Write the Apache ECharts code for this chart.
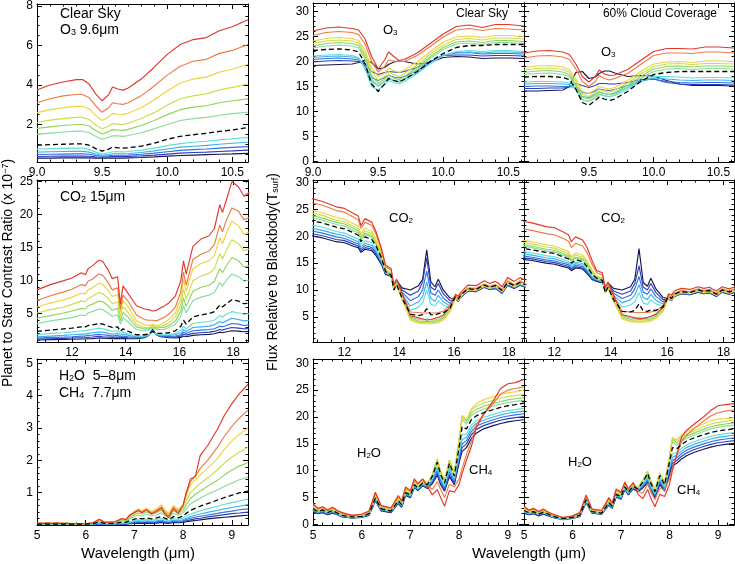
<!DOCTYPE html>
<html>
<head>
<meta charset="utf-8">
<script src="https://cdn.jsdelivr.net/npm/echarts@6/dist/echarts.min.js"></script>
<style>
  html, body { margin: 0; padding: 0; background: #fff; }
  #chart { width: 735px; height: 564px; }
</style>
</head>
<body>
<div id="chart"></div>
<script>
// every panel: rows in the order red, orange, yellow, yellow-green, green, light green,
// dashed black, aqua, sky blue, blue, dark blue, navy
const lineColors = ['#e0392b', '#ec7b46', '#f2d23c', '#c7e048', '#8fd45c', '#86dc9c',
  '#000000', '#5ee0d6', '#3fb0ee', '#3072de', '#2b3fbf', '#16164f'];

// tick labels
const o3XTicks = [9.0, 9.5, 10.0, 10.5];
const co2XTicks = [12, 14, 16, 18];
const h2oXTicks = [5, 6, 7, 8, 9];
const ratioO3YTicks = [2, 4, 6, 8];
const ratioCO2YTicks = [5, 10, 15, 20, 25];
const ratioH2OYTicks = [1, 2, 3, 4, 5];
const fluxYTicks = [0, 5, 10, 15, 20, 25, 30];

// ---- O3 band (9 - 10.6 um) ----
const o3X = [9.0, 9.1, 9.2, 9.3, 9.35, 9.4, 9.45, 9.5, 9.55, 9.58, 9.62, 9.66, 9.7, 9.8, 9.9, 10.0, 10.1, 10.2, 10.3, 10.4, 10.5, 10.62];

const o3Ratio = [
  [3.75,4.0,4.15,4.27,4.28,4.05,3.55,3.2,3.5,3.9,3.8,3.74,3.85,4.3,4.9,5.55,6.05,6.3,6.4,6.75,6.95,7.3],
  [3.1,3.3,3.45,3.52,3.52,3.35,2.95,2.62,2.85,3.1,3.05,3.02,3.1,3.45,3.95,4.5,4.95,5.2,5.3,5.6,5.75,6.05],
  [2.6,2.75,2.85,2.92,2.92,2.8,2.45,2.2,2.38,2.55,2.52,2.5,2.57,2.85,3.25,3.7,4.1,4.3,4.4,4.65,4.8,5.05],
  [2.1,2.22,2.3,2.36,2.36,2.25,1.98,1.78,1.92,2.05,2.02,2.0,2.06,2.3,2.6,2.98,3.3,3.45,3.55,3.75,3.88,4.05],
  [1.8,1.88,1.95,2.0,2.0,1.92,1.7,1.52,1.64,1.74,1.72,1.7,1.75,1.95,2.2,2.5,2.75,2.88,2.95,3.1,3.2,3.3],
  [1.5,1.56,1.62,1.66,1.66,1.58,1.4,1.25,1.35,1.43,1.42,1.4,1.44,1.58,1.78,2.0,2.2,2.3,2.36,2.47,2.55,2.62],
  [0.95,0.98,1.0,1.02,1.02,0.95,0.78,0.65,0.75,0.85,0.82,0.8,0.82,0.9,1.05,1.25,1.4,1.48,1.55,1.65,1.72,1.85],
  [0.75,0.77,0.79,0.8,0.8,0.74,0.6,0.5,0.57,0.62,0.62,0.61,0.63,0.7,0.8,0.93,1.03,1.1,1.15,1.22,1.28,1.35],
  [0.6,0.62,0.63,0.64,0.64,0.6,0.5,0.44,0.48,0.52,0.52,0.52,0.53,0.58,0.66,0.76,0.85,0.9,0.94,1.0,1.05,1.1],
  [0.48,0.49,0.5,0.51,0.51,0.49,0.43,0.39,0.41,0.44,0.44,0.44,0.45,0.49,0.55,0.62,0.69,0.73,0.76,0.8,0.84,0.88],
  [0.38,0.39,0.4,0.4,0.4,0.39,0.36,0.34,0.36,0.37,0.37,0.37,0.38,0.41,0.45,0.5,0.55,0.58,0.6,0.63,0.66,0.7],
  [0.3,0.3,0.31,0.31,0.31,0.31,0.3,0.29,0.3,0.3,0.3,0.3,0.31,0.33,0.36,0.4,0.43,0.45,0.47,0.49,0.51,0.54]
];

const o3FluxClear = [
  [26.1,26.7,26.9,26.6,26.3,24.5,21.0,18.5,20.3,21.9,21.0,20.2,20.4,21.7,23.6,25.5,27.0,27.3,26.8,27.4,27.4,27.1],
  [25.2,25.8,26.0,25.8,25.4,23.5,20.0,17.9,19.0,20.3,20.1,20.0,20.0,21.2,23.0,24.9,26.3,26.6,26.2,26.6,26.5,26.3],
  [24.1,24.6,24.8,24.6,24.2,22.2,18.8,17.0,17.6,18.7,18.2,17.8,18.3,19.9,22.0,23.9,24.9,25.1,24.8,25.2,25.2,25.0],
  [23.6,24.1,24.3,24.1,23.7,21.6,18.0,16.3,17.0,18.0,17.4,17.0,17.6,19.3,21.5,23.3,24.4,24.6,24.3,24.7,24.7,24.5],
  [23.1,23.6,23.8,23.6,23.2,21.0,17.2,15.6,16.5,17.3,16.7,16.3,17.0,18.8,21.0,22.8,23.9,24.1,23.8,24.2,24.2,24.0],
  [22.7,23.1,23.3,23.1,22.7,20.5,16.5,15.0,16.0,16.8,16.2,15.8,16.6,18.4,20.6,22.4,23.5,23.7,23.4,23.8,23.8,23.6],
  [22.2,22.4,22.5,22.3,21.9,19.5,15.5,14.0,15.5,16.6,16.2,15.9,16.4,18.0,20.0,21.6,22.8,23.2,23.2,23.4,23.4,23.4],
  [21.1,21.3,21.4,21.2,20.8,18.5,15.0,14.3,15.4,16.2,15.8,15.5,16.0,17.6,19.6,21.2,22.0,22.2,22.0,22.2,22.2,22.0],
  [20.8,21.0,21.1,20.9,20.6,18.8,16.0,15.2,16.0,16.6,16.2,16.0,16.4,17.8,19.6,21.2,21.8,21.9,21.7,21.9,21.9,21.8],
  [20.4,20.6,20.7,20.5,20.3,19.0,16.8,16.2,16.8,17.2,16.9,16.7,17.0,18.2,19.8,21.3,21.7,21.8,21.5,21.6,21.6,21.5],
  [19.9,20.1,20.2,20.1,20.0,19.5,18.0,17.4,17.8,18.0,17.9,17.8,18.0,18.8,20.0,21.2,21.3,21.3,21.1,21.2,21.2,21.1],
  [19.2,19.3,19.4,19.5,19.8,20.3,19.8,18.5,18.8,19.4,19.9,20.1,20.0,19.5,19.8,20.8,21.0,20.9,20.6,20.7,20.7,20.6]
];

const o3FluxCloud = [
  [21.7,22.1,22.2,21.9,21.4,19.5,17.0,15.9,17.0,18.3,17.5,17.2,17.3,18.4,20.2,22.0,22.6,22.6,22.5,22.9,22.9,22.7],
  [20.7,21.1,21.2,20.9,20.4,18.5,16.0,15.0,16.0,17.2,16.6,16.3,16.6,17.6,19.4,21.2,21.7,21.7,21.6,21.9,21.9,21.7],
  [18.8,19.1,19.2,18.9,18.4,16.5,14.0,13.6,14.4,15.0,14.7,14.5,14.8,16.2,18.0,19.5,19.9,20.0,19.8,20.1,20.1,20.0],
  [18.3,18.6,18.7,18.4,17.9,16.0,13.4,13.0,13.8,14.4,14.1,13.9,14.3,15.7,17.5,19.0,19.5,19.6,19.4,19.6,19.6,19.5],
  [17.8,18.1,18.2,17.9,17.4,15.4,12.8,12.5,13.3,13.9,13.6,13.4,13.8,15.2,17.0,18.5,19.0,19.1,18.9,19.1,19.1,19.0],
  [17.4,17.6,17.7,17.4,17.0,15.0,12.3,12.0,12.9,13.5,13.2,13.0,13.4,14.8,16.6,18.0,18.5,18.6,18.4,18.6,18.6,18.5],
  [16.9,17.0,17.0,16.8,16.4,14.5,11.8,11.2,12.2,12.9,12.5,12.2,12.5,14.0,16.0,17.4,17.8,18.0,18.0,18.0,18.0,18.0],
  [15.9,16.0,16.0,15.9,15.7,14.3,12.3,12.0,12.8,13.4,13.1,12.9,13.2,14.4,16.0,17.0,17.0,16.9,16.7,16.8,16.8,16.7],
  [15.5,15.6,15.6,15.5,15.4,14.6,13.0,12.8,13.4,13.9,13.6,13.4,13.7,14.8,16.0,16.7,16.5,16.3,16.2,16.3,16.3,16.2],
  [15.0,15.1,15.1,15.0,15.0,14.8,13.8,13.6,14.1,14.5,14.3,14.2,14.4,15.2,16.2,16.5,16.0,15.8,15.7,15.8,15.8,15.7],
  [14.6,14.6,14.7,14.7,14.9,15.6,15.2,14.8,15.2,15.6,15.6,15.5,15.5,15.8,16.4,16.5,15.8,15.5,15.4,15.4,15.4,15.3],
  [14.1,14.1,14.2,14.3,15.0,17.8,18.0,16.6,16.9,17.6,18.1,18.1,17.7,17.0,17.2,17.1,16.2,15.5,15.2,15.2,15.2,15.1]
];

// ---- CO2 band (11 - 18.5 um) ----
const co2X = [10.7, 11.2, 11.7, 12.0, 12.35, 12.5, 12.6, 12.75, 13.0, 13.15, 13.35, 13.5, 13.7, 13.8, 13.9, 14.1, 14.4, 14.7, 14.85, 15.0, 15.15, 15.3, 15.42, 15.6, 15.85, 16.05, 16.15, 16.25, 16.5, 16.8, 17.1, 17.3, 17.5, 17.6, 17.75, 17.95, 18.2, 18.4, 18.6];

const co2Ratio = [
  [8.6,9.4,10.0,10.4,11.2,10.9,11.8,12.2,13.1,12.9,11.6,10.3,10.6,6.4,9.2,8.0,6.2,5.7,5.6,5.4,5.5,5.9,6.1,6.6,7.7,10.0,13.0,11.0,15.2,16.3,16.8,17.9,21.5,20.3,22.3,25.0,24.2,22.8,23.4],
  [7.0,7.7,8.3,8.7,9.4,9.2,9.9,10.2,11.0,10.8,9.7,8.6,8.9,5.6,7.8,6.8,4.8,4.1,4.0,4.0,3.9,4.2,4.4,4.9,6.0,8.3,11.3,9.3,13.2,14.0,14.5,15.5,18.4,17.4,19.2,21.0,20.5,19.2,19.6],
  [6.0,6.6,7.1,7.5,8.1,8.0,8.6,8.9,9.6,9.4,8.5,7.6,7.9,5.2,7.0,6.0,3.9,3.3,3.2,3.4,3.2,3.4,3.6,4.1,5.1,7.3,10.2,8.4,11.8,12.6,13.0,13.8,16.5,15.6,17.2,19.0,18.3,17.0,17.4],
  [5.1,5.6,6.0,6.4,6.9,6.8,7.3,7.6,8.2,8.0,7.3,6.5,6.8,4.5,6.1,5.1,3.4,2.9,2.9,3.2,3.0,3.1,3.2,3.6,4.5,6.3,8.7,7.2,10.0,10.7,11.1,11.8,14.1,13.3,14.7,16.2,15.6,14.5,14.8],
  [4.3,4.7,5.1,5.4,5.8,5.7,6.2,6.4,6.9,6.8,6.2,5.5,5.8,3.9,5.2,4.4,3.0,2.7,2.7,3.0,2.8,2.9,2.9,3.2,3.9,5.4,7.4,6.1,8.4,9.0,9.3,9.9,11.8,11.2,12.3,13.5,13.0,12.1,12.3],
  [3.5,3.9,4.2,4.4,4.8,4.7,5.1,5.3,5.7,5.6,5.1,4.6,4.8,3.4,4.4,3.7,2.6,2.4,2.5,2.8,2.6,2.6,2.6,2.9,3.4,4.6,6.2,5.1,7.0,7.5,7.8,8.2,9.7,9.2,10.1,11.0,10.6,9.9,10.1],
  [2.3,2.5,2.7,2.8,3.0,3.0,3.2,3.3,3.5,3.4,3.1,2.9,3.0,2.3,2.7,2.3,1.8,1.8,1.9,2.3,2.0,2.0,2.0,2.1,2.4,3.1,4.0,3.4,4.5,4.8,5.0,5.3,6.3,6.0,6.5,7.1,6.9,6.5,6.6],
  [1.8,2.0,2.1,2.2,2.4,2.4,2.5,2.6,2.8,2.7,2.5,2.3,2.4,2.0,2.2,1.9,1.6,1.6,1.8,2.3,1.9,1.8,1.8,1.8,2.0,2.5,3.1,2.7,3.5,3.7,3.8,4.0,4.7,4.5,4.9,5.3,5.1,4.9,5.0],
  [1.5,1.6,1.7,1.8,1.9,1.9,2.0,2.1,2.2,2.2,2.0,1.9,2.0,1.7,1.9,1.7,1.5,1.5,1.7,2.3,1.8,1.7,1.7,1.7,1.8,2.1,2.6,2.3,2.9,3.0,3.1,3.3,3.8,3.6,3.9,4.3,4.1,3.9,4.0],
  [1.3,1.4,1.45,1.5,1.6,1.6,1.7,1.75,1.85,1.8,1.7,1.6,1.7,1.5,1.6,1.5,1.4,1.45,1.7,2.4,1.8,1.6,1.6,1.55,1.6,1.8,2.2,2.0,2.4,2.5,2.6,2.7,3.1,3.0,3.2,3.5,3.4,3.2,3.3],
  [1.15,1.2,1.25,1.3,1.35,1.35,1.4,1.45,1.55,1.5,1.45,1.4,1.45,1.35,1.4,1.35,1.3,1.4,1.7,2.5,1.8,1.55,1.5,1.45,1.45,1.6,1.9,1.75,2.0,2.1,2.2,2.3,2.6,2.5,2.7,2.9,2.8,2.7,2.75],
  [1.0,1.05,1.1,1.12,1.15,1.15,1.2,1.22,1.3,1.28,1.25,1.2,1.25,1.2,1.25,1.2,1.2,1.35,1.7,2.6,1.8,1.5,1.45,1.35,1.3,1.4,1.6,1.5,1.7,1.8,1.85,1.95,2.2,2.1,2.25,2.4,2.35,2.25,2.3]
];

const co2FluxClear = [
  [27.2,26.5,25.5,25.2,24.2,23.8,22.0,23.3,22.6,20.9,17.7,14.6,14.0,11.0,12.0,9.5,5.2,4.8,4.6,4.4,4.5,4.7,4.9,5.3,6.8,9.2,8.8,9.6,10.9,10.8,11.7,11.2,11.6,11.3,10.6,12.3,11.6,12.3,11.8],
  [26.4,25.8,24.8,24.5,23.5,23.1,21.5,22.6,22.0,20.4,17.4,14.3,13.7,10.8,11.8,9.3,5.9,5.8,5.7,5.7,5.7,5.7,5.8,6.0,7.2,9.0,8.5,9.2,10.4,10.3,11.1,10.7,11.0,10.7,10.1,11.7,11.0,11.7,11.2],
  [25.0,24.4,23.5,23.2,22.3,21.9,20.5,21.5,20.9,19.5,16.8,13.8,13.2,10.2,11.3,8.5,4.4,3.8,3.7,3.7,3.7,3.8,3.9,4.4,5.9,8.5,8.0,8.8,10.0,9.9,10.7,10.3,10.6,10.3,9.7,11.2,10.6,11.2,10.8],
  [24.5,23.9,23.0,22.7,21.8,21.4,20.1,21.0,20.5,19.1,16.6,13.7,13.1,10.1,11.2,8.4,4.6,4.0,3.9,3.9,3.9,4.0,4.1,4.6,6.0,8.6,8.1,8.9,10.1,10.0,10.8,10.4,10.7,10.4,9.8,11.3,10.7,11.3,10.9],
  [24.0,23.4,22.6,22.3,21.4,21.0,19.7,20.6,20.1,18.8,16.4,13.6,13.0,10.0,11.1,8.3,4.8,4.2,4.1,4.2,4.1,4.2,4.3,4.8,6.2,8.7,8.2,9.0,10.2,10.1,10.9,10.5,10.8,10.5,9.9,11.4,10.8,11.4,11.0],
  [23.6,23.0,22.2,21.9,21.0,20.6,19.4,20.3,19.8,18.5,16.2,13.5,12.9,9.9,11.0,8.3,5.0,4.5,4.4,4.6,4.4,4.4,4.6,5.0,6.4,8.8,8.3,9.1,10.3,10.2,11.0,10.6,10.9,10.6,10.0,11.5,10.9,11.5,11.1],
  [23.0,22.5,21.7,21.4,20.6,20.2,19.0,19.9,19.4,18.2,16.0,13.4,12.8,10.0,11.0,8.5,5.5,5.2,5.4,6.5,5.4,5.3,5.6,5.7,6.6,8.8,8.3,9.1,10.2,10.1,10.9,10.5,10.8,10.5,9.9,11.4,10.8,11.4,11.0],
  [22.2,21.7,20.9,20.6,19.8,19.5,18.4,19.2,18.8,17.7,15.6,13.3,12.7,10.2,11.2,8.8,6.2,6.8,7.6,10.0,7.4,7.0,8.0,7.2,6.6,8.7,8.2,9.0,10.1,10.0,10.8,10.4,10.6,10.3,9.7,11.2,10.6,11.2,10.8],
  [21.6,21.1,20.4,20.1,19.3,19.0,18.0,18.7,18.3,17.3,15.3,13.2,12.7,10.4,11.4,9.2,7.0,7.8,8.8,11.5,8.4,7.9,9.0,7.8,7.0,8.6,8.1,8.9,10.0,9.9,10.7,10.3,10.5,10.2,9.6,11.1,10.5,11.1,10.7],
  [21.1,20.6,19.9,19.6,18.9,18.6,17.6,18.3,17.9,17.0,15.1,13.1,12.6,10.6,11.5,9.6,8.0,8.8,10.0,13.5,9.5,9.0,10.0,8.5,7.5,8.5,8.0,8.8,9.9,9.8,10.6,10.2,10.4,10.1,9.5,11.0,10.4,11.0,10.6],
  [20.6,20.1,19.4,19.2,18.5,18.2,17.3,17.9,17.6,16.7,14.9,13.0,12.6,10.8,11.7,10.0,9.0,9.8,11.5,16.0,10.5,10.0,11.2,9.3,8.0,8.4,7.9,8.7,9.8,9.7,10.5,10.1,10.3,10.0,9.4,10.9,10.3,10.9,10.5],
  [20.2,19.7,19.0,18.8,18.1,17.9,17.0,17.6,17.3,16.4,14.7,12.9,12.5,11.0,11.8,10.4,10.0,10.8,12.0,17.5,11.5,10.6,12.0,10.0,8.5,8.4,7.9,8.7,9.8,9.7,10.5,10.1,10.3,10.0,9.4,10.9,10.3,10.9,10.5]
];

const co2FluxCloud = [
  [23.0,22.5,21.8,21.6,20.7,20.3,19.0,19.9,19.3,18.0,15.3,13.6,13.2,10.5,11.5,9.0,5.4,5.0,4.8,4.6,4.7,4.9,5.1,5.5,6.8,9.3,9.0,9.8,10.3,10.1,10.6,10.3,10.5,10.2,9.8,10.6,10.2,10.6,10.2],
  [21.6,21.1,20.5,20.3,19.5,19.1,17.9,18.7,18.2,17.0,14.6,13.2,12.8,10.3,11.3,8.8,6.0,5.9,5.8,5.8,5.8,5.8,5.9,6.1,7.1,9.0,8.6,9.4,9.9,9.7,10.2,9.9,10.1,9.8,9.4,10.2,9.8,10.2,9.8],
  [19.4,19.0,18.4,18.2,17.5,17.2,16.2,16.9,16.5,15.5,13.6,12.6,12.2,9.7,10.8,8.0,4.6,4.1,4.0,4.0,4.0,4.1,4.2,4.7,6.0,8.5,8.1,8.9,9.5,9.3,9.8,9.5,9.7,9.4,9.0,9.8,9.4,9.8,9.4],
  [19.0,18.6,18.0,17.8,17.1,16.8,15.9,16.5,16.1,15.2,13.4,12.5,12.1,9.6,10.7,7.9,4.8,4.3,4.2,4.2,4.2,4.3,4.4,4.9,6.1,8.6,8.2,9.0,9.6,9.4,9.9,9.6,9.8,9.5,9.1,9.9,9.5,9.9,9.5],
  [18.6,18.2,17.6,17.4,16.7,16.4,15.5,16.1,15.8,14.9,13.2,12.4,12.0,9.5,10.6,7.9,5.0,4.5,4.4,4.5,4.4,4.5,4.6,5.1,6.3,8.7,8.3,9.1,9.7,9.5,10.0,9.7,9.9,9.6,9.2,10.0,9.6,10.0,9.6],
  [18.3,17.9,17.3,17.1,16.4,16.1,15.3,15.9,15.6,14.7,13.0,12.3,11.9,9.4,10.5,7.9,5.2,4.8,4.7,4.9,4.7,4.7,4.9,5.3,6.5,8.8,8.4,9.2,9.8,9.6,10.1,9.8,10.0,9.7,9.3,10.1,9.7,10.1,9.7],
  [17.9,17.5,17.0,16.8,16.1,15.8,15.0,15.6,15.3,14.4,12.8,12.2,11.8,9.5,10.5,8.2,6.0,5.9,6.2,7.4,6.1,6.0,6.3,6.2,6.8,8.8,8.4,9.2,9.7,9.5,10.0,9.7,9.9,9.6,9.2,10.0,9.6,10.0,9.6],
  [17.3,16.9,16.4,16.2,15.6,15.3,14.6,15.2,14.9,14.0,12.5,12.0,11.7,9.7,10.7,8.6,6.8,7.2,7.8,9.5,7.6,7.3,8.2,7.4,7.0,8.7,8.3,9.1,9.6,9.4,9.9,9.6,9.8,9.5,9.1,9.9,9.5,9.9,9.5],
  [16.9,16.5,16.0,15.8,15.2,15.0,14.3,14.9,14.6,13.8,12.4,11.9,11.6,9.9,10.9,9.0,7.6,8.2,9.0,11.0,8.6,8.2,9.2,8.1,7.4,8.6,8.2,9.0,9.5,9.3,9.8,9.5,9.7,9.4,9.0,9.8,9.4,9.8,9.4],
  [16.5,16.1,15.6,15.4,14.9,14.7,14.0,14.6,14.3,13.5,12.2,11.8,11.5,10.1,11.0,9.4,8.4,9.0,10.2,12.5,9.6,9.2,10.2,8.8,7.8,8.5,8.1,8.9,9.4,9.2,9.7,9.4,9.6,9.3,8.9,9.7,9.3,9.7,9.3],
  [16.1,15.8,15.3,15.1,14.6,14.4,13.8,14.3,14.1,13.3,12.0,11.7,11.4,10.3,11.2,9.8,9.2,9.8,11.2,14.5,10.5,10.0,11.2,9.5,8.2,8.4,8.0,8.8,9.3,9.1,9.6,9.3,9.5,9.2,8.8,9.6,9.2,9.6,9.2],
  [15.8,15.5,15.0,14.8,14.3,14.1,13.6,14.1,13.9,13.1,11.9,11.6,11.3,10.5,11.3,10.3,10.0,10.6,12.0,17.7,11.4,10.7,12.2,10.2,8.6,8.4,8.0,8.8,9.3,9.1,9.6,9.3,9.5,9.2,8.8,9.6,9.2,9.6,9.2]
];

// ---- H2O / CH4 band (5 - 9.3 um) ----
const h2oX = [5.0, 5.1, 5.2, 5.3, 5.4, 5.5, 5.6, 5.8, 6.0, 6.15, 6.28, 6.4, 6.6, 6.75, 6.82, 6.9, 7.0, 7.08, 7.15, 7.25, 7.35, 7.45, 7.55, 7.62, 7.7, 7.8, 7.9, 8.0, 8.06, 8.15, 8.25, 8.35, 8.5, 8.7, 8.85, 9.0, 9.15, 9.33];

const h2oRatio = [
  [0.06,0.05,0.06,0.05,0.06,0.05,0.05,0.04,0.04,0.07,0.18,0.08,0.1,0.2,0.16,0.3,0.38,0.45,0.38,0.46,0.34,0.42,0.52,0.35,0.22,0.5,0.35,0.62,1.0,1.42,1.5,2.15,2.45,2.95,3.4,3.75,4.05,4.35],
  [0.06,0.05,0.06,0.05,0.06,0.05,0.05,0.04,0.04,0.07,0.17,0.08,0.1,0.2,0.16,0.3,0.4,0.46,0.4,0.48,0.37,0.45,0.56,0.4,0.28,0.55,0.42,0.62,0.95,1.35,1.5,1.75,2.0,2.4,2.75,3.05,3.3,3.55],
  [0.06,0.05,0.06,0.05,0.06,0.05,0.05,0.04,0.04,0.07,0.17,0.08,0.1,0.2,0.17,0.3,0.42,0.5,0.44,0.52,0.42,0.5,0.62,0.48,0.36,0.6,0.48,0.62,0.9,1.25,1.4,1.55,1.75,2.05,2.35,2.6,2.8,3.0],
  [0.05,0.05,0.05,0.05,0.05,0.05,0.05,0.04,0.04,0.06,0.16,0.07,0.09,0.18,0.15,0.27,0.38,0.45,0.4,0.47,0.38,0.45,0.55,0.43,0.33,0.52,0.42,0.54,0.75,1.0,1.15,1.28,1.45,1.7,1.92,2.1,2.25,2.4],
  [0.05,0.04,0.05,0.04,0.05,0.04,0.04,0.04,0.04,0.06,0.14,0.06,0.08,0.16,0.13,0.23,0.32,0.38,0.34,0.4,0.33,0.38,0.46,0.36,0.28,0.44,0.36,0.46,0.62,0.82,0.95,1.05,1.2,1.38,1.55,1.7,1.82,1.93],
  [0.04,0.04,0.04,0.04,0.04,0.04,0.04,0.03,0.03,0.05,0.12,0.05,0.07,0.13,0.11,0.19,0.26,0.31,0.28,0.33,0.27,0.31,0.38,0.3,0.23,0.36,0.3,0.38,0.5,0.65,0.75,0.83,0.95,1.08,1.2,1.3,1.4,1.48],
  [0.03,0.03,0.03,0.03,0.03,0.03,0.03,0.03,0.03,0.04,0.09,0.04,0.05,0.09,0.08,0.13,0.18,0.21,0.19,0.22,0.19,0.22,0.26,0.21,0.16,0.26,0.22,0.28,0.36,0.45,0.52,0.58,0.66,0.77,0.85,0.92,0.99,1.05],
  [0.03,0.03,0.03,0.03,0.03,0.03,0.03,0.02,0.02,0.03,0.07,0.03,0.04,0.07,0.06,0.1,0.14,0.16,0.15,0.17,0.15,0.17,0.2,0.16,0.13,0.2,0.17,0.22,0.28,0.34,0.39,0.44,0.5,0.58,0.64,0.69,0.74,0.8],
  [0.02,0.02,0.02,0.02,0.02,0.02,0.02,0.02,0.02,0.03,0.05,0.03,0.03,0.05,0.05,0.08,0.11,0.13,0.11,0.13,0.11,0.13,0.15,0.12,0.1,0.15,0.13,0.17,0.21,0.26,0.3,0.34,0.39,0.45,0.5,0.54,0.58,0.63],
  [0.02,0.02,0.02,0.02,0.02,0.02,0.02,0.02,0.02,0.02,0.04,0.02,0.03,0.04,0.04,0.06,0.08,0.1,0.09,0.1,0.09,0.1,0.12,0.1,0.08,0.12,0.1,0.13,0.17,0.21,0.24,0.27,0.31,0.36,0.4,0.43,0.47,0.5],
  [0.02,0.02,0.02,0.02,0.02,0.02,0.02,0.01,0.01,0.02,0.03,0.02,0.02,0.03,0.03,0.05,0.06,0.08,0.07,0.08,0.07,0.08,0.1,0.08,0.07,0.1,0.08,0.1,0.13,0.16,0.19,0.21,0.25,0.29,0.32,0.35,0.37,0.4],
  [0.01,0.01,0.01,0.01,0.01,0.01,0.01,0.01,0.01,0.02,0.03,0.02,0.02,0.03,0.03,0.04,0.05,0.06,0.05,0.06,0.05,0.06,0.08,0.06,0.05,0.08,0.07,0.08,0.1,0.12,0.14,0.16,0.19,0.22,0.24,0.26,0.28,0.3]
];

const h2oFluxClear = [
  [3.9,3.0,3.3,2.7,3.2,2.6,2.2,1.7,1.9,2.5,6.0,3.5,3.1,5.4,4.4,7.0,6.3,8.5,7.6,8.5,7.0,5.5,6.5,5.0,3.4,6.3,6.0,7.5,9.5,12.0,14.5,18.0,20.5,23.0,25.3,26.2,26.4,27.0],
  [3.7,2.9,3.2,2.6,3.1,2.5,2.1,1.7,1.9,2.4,5.8,3.4,3.0,5.2,4.3,6.8,6.2,8.3,7.5,8.4,7.2,6.5,8.0,6.5,5.0,7.5,7.0,8.5,10.5,13.0,15.5,18.5,20.5,22.5,24.3,25.0,25.3,25.6],
  [3.5,2.8,3.1,2.5,3.0,2.4,2.0,1.6,1.8,2.3,5.6,3.3,2.9,5.0,4.2,6.6,6.1,8.1,7.4,8.3,7.8,9.0,11.5,9.5,8.2,11.5,9.5,15.5,20.0,19.5,21.5,22.5,23.2,23.8,24.3,24.5,24.7,25.0],
  [3.3,2.7,3.0,2.4,2.9,2.3,1.9,1.5,1.7,2.2,5.4,3.2,2.8,4.8,4.0,6.4,5.9,7.9,7.2,8.1,7.7,9.2,12.0,9.8,8.3,12.0,9.7,16.0,20.3,19.5,21.3,22.0,22.6,23.1,23.5,23.8,24.0,24.2],
  [3.1,2.6,2.9,2.3,2.8,2.2,1.8,1.5,1.6,2.1,5.2,3.1,2.7,4.6,3.9,6.2,5.7,7.7,7.0,7.9,7.6,9.3,12.2,9.8,8.2,12.0,9.6,15.8,20.2,19.2,20.8,21.4,22.0,22.5,22.9,23.2,23.4,23.6],
  [3.0,2.5,2.8,2.2,2.7,2.1,1.7,1.4,1.6,2.0,5.0,3.0,2.6,4.5,3.8,6.0,5.6,7.5,6.9,7.8,7.5,9.2,12.0,9.6,8.0,11.8,9.4,15.3,19.6,18.7,20.3,20.9,21.5,22.0,22.4,22.7,22.9,23.1],
  [2.9,2.4,2.7,2.2,2.6,2.1,1.7,1.4,1.5,2.0,4.9,2.9,2.5,4.4,3.7,5.9,5.5,7.4,6.8,7.7,7.4,9.0,11.6,9.3,7.7,11.4,9.0,14.5,18.2,17.8,19.5,20.2,20.8,21.4,21.8,22.1,22.3,22.6],
  [2.8,2.3,2.6,2.1,2.5,2.0,1.6,1.3,1.5,1.9,4.8,2.8,2.5,4.3,3.6,5.8,5.4,7.3,6.7,7.6,7.2,8.6,11.0,8.8,7.3,10.8,8.6,13.6,16.8,16.8,18.5,19.3,19.9,20.5,20.9,21.2,21.4,21.6],
  [2.7,2.3,2.5,2.1,2.4,2.0,1.6,1.3,1.4,1.9,4.7,2.8,2.4,4.2,3.5,5.7,5.3,7.2,6.6,7.5,7.0,8.3,10.5,8.4,7.0,10.3,8.3,13.0,15.8,16.2,17.9,18.8,19.4,20.0,20.4,20.7,20.9,21.1],
  [2.6,2.2,2.4,2.0,2.3,1.9,1.5,1.3,1.4,1.8,4.6,2.7,2.4,4.1,3.4,5.6,5.2,7.1,6.5,7.4,6.9,8.0,10.0,8.0,6.7,9.8,8.0,12.5,15.0,15.6,17.3,18.3,18.9,19.5,19.9,20.2,20.4,20.6],
  [2.5,2.1,2.3,1.9,2.2,1.9,1.5,1.2,1.4,1.8,4.5,2.6,2.3,4.0,3.3,5.5,5.1,7.0,6.4,7.3,6.8,7.8,9.6,7.7,6.4,9.3,7.7,12.0,14.3,15.0,16.7,17.7,18.4,19.0,19.4,19.7,19.9,20.1],
  [2.4,2.0,2.2,1.8,2.1,1.8,1.4,1.2,1.3,1.7,4.4,2.5,2.2,3.9,3.2,5.4,5.0,6.9,6.3,7.2,6.7,7.6,9.2,7.4,6.2,8.9,7.4,11.5,13.6,14.3,16.0,17.0,17.8,18.4,18.8,19.1,19.3,19.5]
];

const h2oFluxCloud = [
  [3.4,2.7,3.0,2.4,2.9,2.3,1.9,1.3,1.6,2.2,5.5,2.9,2.6,5.0,4.0,6.6,6.0,7.9,6.6,7.8,5.6,4.8,6.5,4.8,3.3,5.6,5.2,7.5,10.0,13.0,16.3,17.5,18.6,20.0,21.2,22.1,22.3,22.5],
  [3.2,2.6,2.9,2.3,2.8,2.2,1.8,1.3,1.5,2.1,5.3,2.8,2.5,4.8,3.9,6.4,5.9,7.7,6.6,7.7,6.2,5.8,7.6,6.0,4.6,6.8,6.4,8.5,10.5,13.0,15.5,16.6,17.8,19.2,20.2,20.8,21.1,21.3],
  [3.0,2.5,2.8,2.2,2.7,2.1,1.7,1.2,1.5,2.0,5.1,2.7,2.4,4.6,3.8,6.2,5.7,7.5,6.5,7.6,6.9,8.0,9.5,7.8,6.6,9.3,7.8,12.5,16.0,15.8,16.6,17.2,17.9,18.7,19.3,19.6,19.7,19.9],
  [2.9,2.4,2.7,2.1,2.6,2.0,1.7,1.2,1.4,1.9,5.0,2.6,2.3,4.5,3.7,6.0,5.6,7.4,6.4,7.5,6.9,8.2,9.8,8.0,6.6,9.5,7.9,12.8,16.2,15.6,16.3,16.8,17.4,18.2,18.7,19.0,19.2,19.4],
  [2.8,2.3,2.6,2.0,2.5,2.0,1.6,1.1,1.4,1.8,4.8,2.5,2.2,4.3,3.6,5.8,5.4,7.2,6.2,7.3,6.8,8.2,9.9,8.0,6.5,9.5,7.8,12.6,15.9,15.2,15.9,16.4,17.0,17.7,18.2,18.5,18.7,18.9],
  [2.7,2.2,2.5,2.0,2.4,1.9,1.6,1.1,1.3,1.8,4.7,2.4,2.2,4.2,3.5,5.7,5.3,7.1,6.1,7.2,6.7,8.1,9.8,7.9,6.4,9.4,7.7,12.3,15.4,14.8,15.5,16.0,16.6,17.3,17.8,18.1,18.3,18.5],
  [2.6,2.2,2.4,1.9,2.3,1.9,1.5,1.1,1.3,1.7,4.6,2.4,2.1,4.1,3.4,5.6,5.2,7.0,6.0,7.1,6.6,7.9,9.5,7.6,6.1,9.1,7.4,11.6,14.3,14.1,14.9,15.5,16.1,16.7,17.1,17.4,17.6,17.8],
  [2.5,2.1,2.3,1.9,2.2,1.8,1.5,1.0,1.3,1.7,4.5,2.3,2.1,4.0,3.3,5.5,5.1,6.9,5.9,7.0,6.5,7.6,9.0,7.2,5.8,8.7,7.1,11.0,13.2,13.4,14.2,14.8,15.4,16.0,16.4,16.7,16.9,17.1],
  [2.4,2.0,2.3,1.8,2.2,1.8,1.4,1.0,1.2,1.6,4.4,2.3,2.0,3.9,3.3,5.4,5.0,6.8,5.8,6.9,6.4,7.4,8.6,6.9,5.6,8.3,6.8,10.5,12.5,12.9,13.7,14.3,14.9,15.5,15.9,16.2,16.4,16.6],
  [2.3,2.0,2.2,1.8,2.1,1.7,1.4,1.0,1.2,1.6,4.3,2.2,2.0,3.8,3.2,5.3,4.9,6.7,5.7,6.8,6.3,7.2,8.3,6.6,5.4,8.0,6.6,10.1,11.9,12.4,13.2,13.8,14.4,15.0,15.4,15.7,15.9,16.1],
  [2.2,1.9,2.1,1.7,2.0,1.7,1.3,1.0,1.2,1.5,4.2,2.2,1.9,3.7,3.1,5.2,4.8,6.6,5.6,6.7,6.2,7.0,8.0,6.4,5.2,7.7,6.4,9.7,11.4,11.9,12.7,13.3,13.9,14.5,14.9,15.2,15.4,15.6],
  [2.1,1.8,2.0,1.6,1.9,1.6,1.3,0.9,1.1,1.5,4.1,2.1,1.9,3.6,3.0,5.1,4.7,6.5,5.5,6.6,6.1,6.8,7.7,6.2,5.0,7.4,6.2,9.3,10.9,11.4,12.2,12.8,13.4,14.0,14.4,14.7,14.9,15.1]
];

// ---------------------------------------------------------------
const FONT = "'Liberation Sans', Arial, Helvetica, sans-serif";

function steps(a, b, s) {
  const out = [];
  for (let k = 0; a + k * s <= b + 1e-9; k++) out.push(+(a + k * s).toFixed(4));
  return out;
}

// left, top, width, height
const colL = 37, colA = 313, colB = 524;
const rows = [[3, 159], [180, 162], [359, 166]];

const panels = [
  { box: [colL, 0, 211], x: o3X, data: o3Ratio, xr: [9.0, 10.62], yr: [0.1, 8.1],
    xt: o3XTicks, xm: steps(9.0, 10.6, 0.1), yt: ratioO3YTicks, ym: steps(0.5, 8, 0.5), fmt: 1, yLab: true },
  { box: [colL, 1, 211], x: co2X, data: co2Ratio, xr: [10.7, 18.55], yr: [0.7, 25.25],
    xt: co2XTicks, xm: steps(11, 18.5, 0.5), yt: ratioCO2YTicks, ym: steps(1, 25, 1), fmt: 0, yLab: true },
  { box: [colL, 2, 211], x: h2oX, data: h2oRatio, xr: [5, 9.33], yr: [0, 5.13],
    xt: h2oXTicks, xm: steps(5, 9.2, 0.2), yt: ratioH2OYTicks, ym: steps(0.2, 5, 0.2), fmt: 0, yLab: true },
  { box: [colA, 0, 211], x: o3X, data: o3FluxClear, xr: [9.0, 10.62], yr: [-0.1, 31.7],
    xt: o3XTicks, xm: steps(9.0, 10.6, 0.1), yt: fluxYTicks, ym: steps(0, 31, 1), fmt: 1, yLab: true },
  { box: [colB, 0, 210], x: o3X, data: o3FluxCloud, xr: [9.0, 10.62], yr: [-0.1, 31.7],
    xt: o3XTicks.slice(1), xtt: o3XTicks, xm: steps(9.0, 10.6, 0.1), yt: fluxYTicks, ym: steps(0, 31, 1), fmt: 1, yLab: false },
  { box: [colA, 1, 211], x: co2X, data: co2FluxClear, xr: [10.85, 18.55], yr: [0.3, 30.5],
    xt: co2XTicks, xm: steps(11, 18.5, 0.5), yt: fluxYTicks, ym: steps(0, 30, 1), fmt: 0, yLab: true },
  { box: [colB, 1, 210], x: co2X, data: co2FluxCloud, xr: [10.92, 18.37], yr: [0.3, 30.5],
    xt: co2XTicks, xm: steps(11, 18.5, 0.5), yt: fluxYTicks, ym: steps(0, 30, 1), fmt: 0, yLab: false },
  { box: [colA, 2, 211], x: h2oX, data: h2oFluxClear, xr: [5, 9.33], yr: [-0.1, 30.8],
    xt: h2oXTicks, xm: steps(5, 9.2, 0.2), yt: fluxYTicks, ym: steps(0, 30, 1), fmt: 0, yLab: true },
  { box: [colB, 2, 210], x: h2oX, data: h2oFluxCloud, xr: [5, 9.33], yr: [-0.1, 30.8],
    xt: h2oXTicks, xm: steps(5, 9.2, 0.2), yt: fluxYTicks, ym: steps(0, 30, 1), fmt: 0, yLab: false }
];

const grids = [], xAxes = [], yAxes = [], series = [];

function axisSet(dim, gi, range, major, majorAll, minor, showLabel, fmt) {
  const inRange = v => v >= range[0] - 1e-9 && v <= range[1] + 1e-9;
  const sides = dim === 'x' ? ['bottom', 'top'] : ['left', 'right'];
  const out = [];
  sides.forEach((pos, si) => {
    const common = {
      type: 'value', gridIndex: gi, min: range[0], max: range[1], position: pos,
      splitLine: { show: false }
    };
    out.push(Object.assign({}, common, {
      axisLine: { show: true, onZero: false, lineStyle: { color: '#000', width: 1 } },
      axisTick: { show: true, inside: true, length: 5, customValues: majorAll.filter(inRange), lineStyle: { color: '#000', width: 1 } },
      axisLabel: {
        show: showLabel && si === 0, customValues: major, color: '#000', fontSize: 12, fontFamily: FONT,
        margin: dim === 'x' ? 5 : 4,
        formatter: v => fmt ? Number(v).toFixed(fmt) : String(v)
      }
    }));
    out.push(Object.assign({}, common, {
      axisLine: { show: false, onZero: false },
      axisTick: { show: true, inside: true, length: 2.5, customValues: minor.filter(inRange), lineStyle: { color: '#000', width: 1 } },
      axisLabel: { show: false }
    }));
  });
  return out;
}

panels.forEach((p, gi) => {
  const r = rows[p.box[1]];
  grids.push({ left: p.box[0], top: r[0], width: p.box[2], height: r[1], show: false });
  const xi = xAxes.length, yi = yAxes.length;
  xAxes.push(...axisSet('x', gi, p.xr, p.xt, p.xtt || p.xt, p.xm, true, p.fmt));
  yAxes.push(...axisSet('y', gi, p.yr, p.yt, p.yt, p.ym, p.yLab, 0));
  // navy first, red last so warm lines lie on top
  for (let j = p.data.length - 1; j >= 0; j--) {
    const row = p.data[j];
    series.push({
      type: 'line', xAxisIndex: xi, yAxisIndex: yi, silent: true,
      symbol: 'none', showSymbol: false, clip: true,
      data: p.x.map((v, k) => [v, row[k]]),
      lineStyle: { color: lineColors[j], width: j === 6 ? 1.3 : 1.15, type: j === 6 ? [5, 3] : 'solid' },
      z: j === 6 ? 4 : 3
    });
  }
});

function txt(x, y, s, size, align, rot) {
  const el = {
    type: 'text', x, y, silent: true, z: 10,
    style: {
      text: s, fill: '#000', fontSize: size, fontFamily: FONT,
      textAlign: align || 'left', align: align || 'left',
      textVerticalAlign: 'middle', verticalAlign: 'middle',
      rich: {
        s: { fontSize: Math.round(size * 0.65), fontFamily: FONT, fill: '#000', verticalAlign: 'bottom' },
        p: { fontSize: Math.round(size * 0.65), fontFamily: FONT, fill: '#000', verticalAlign: 'top' }
      }
    }
  };
  if (rot) el.rotation = rot;
  return el;
}

const graphics = [
  txt(60, 14, 'Clear Sky', 14),
  txt(60, 30, 'O{s|3} 9.6μm', 14),
  txt(60, 197, 'CO{s|2} 15μm', 14),
  txt(59, 376, 'H{s|2}O  5–8μm', 14),
  txt(59, 393, 'CH{s|4}  7.7μm', 14),
  txt(508, 14, 'Clear Sky', 12, 'right'),
  txt(383, 30, 'O{s|3}', 13),
  txt(717, 14, '60% Cloud Coverage', 12, 'right'),
  txt(601, 52, 'O{s|3}', 13),
  txt(389, 218, 'CO{s|2}', 13),
  txt(601, 218, 'CO{s|2}', 13),
  txt(357, 453, 'H{s|2}O', 13),
  txt(469, 470, 'CH{s|4}', 13),
  txt(568, 462, 'H{s|2}O', 13),
  txt(677, 490, 'CH{s|4}', 13),
  txt(138, 554, 'Wavelength (μm)', 15, 'center'),
  txt(529, 554, 'Wavelength (μm)', 15, 'center'),
  txt(8, 273, 'Planet to Star Contrast Ratio (x 10{p|−7})', 14, 'center', Math.PI / 2),
  txt(273, 272, 'Flux Relative to Blackbody(T{s|surf})', 14, 'center', Math.PI / 2)
];

const chart = echarts.init(document.getElementById('chart'), null, { renderer: 'canvas' });
chart.setOption({
  animation: false,
  backgroundColor: '#ffffff',
  grid: grids,
  xAxis: xAxes,
  yAxis: yAxes,
  series: series,
  graphic: graphics
});
</script>
</body>
</html>
